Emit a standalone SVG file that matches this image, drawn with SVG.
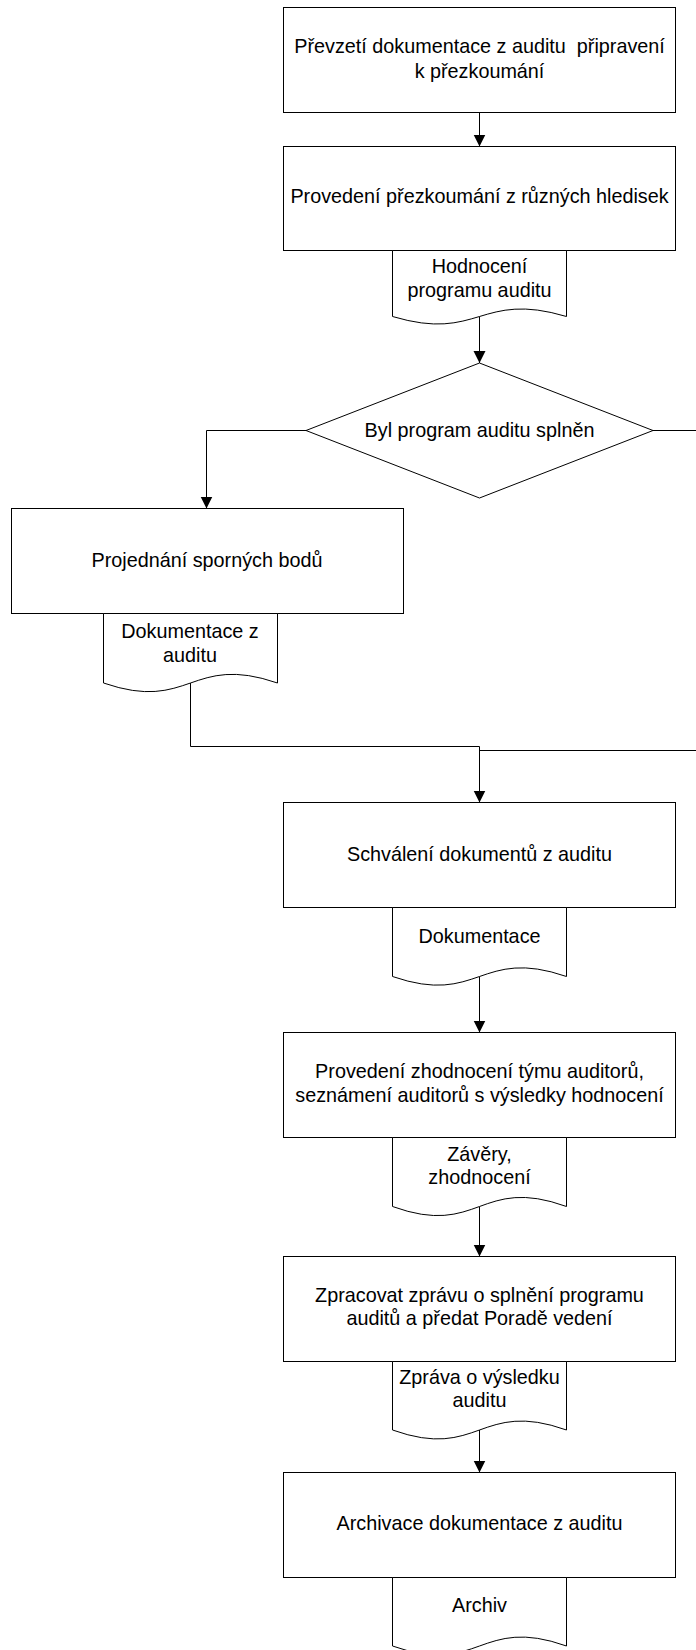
<svg xmlns="http://www.w3.org/2000/svg" width="696" height="1650" viewBox="0 0 696 1650">
  <style>
    .box { fill: #fff; stroke: #000; stroke-width: 1; }
    .doc { fill: #fff; stroke: #000; stroke-width: 1; }
    .edge { fill: none; stroke: #000; stroke-width: 1; }
    .lbl { font-family: "Liberation Sans", Arial, sans-serif; font-size: 19.8px; fill: #000; text-anchor: middle; }
  </style>
  <defs>
    <marker id="arrow" markerUnits="userSpaceOnUse" markerWidth="12" markerHeight="13" refX="12" refY="6.5" orient="auto">
      <path d="M0,0.5 L12,6.5 L0,12.5 z" fill="#000"/>
    </marker>
  </defs>

  <rect width="696" height="1650" fill="#fff"/>

  <!-- connectors -->
  <g id="connectors">
    <path class="edge" d="M479.5,112.5 V146.5" marker-end="url(#arrow)"/>
    <path class="edge" d="M479.5,316.5 V363" marker-end="url(#arrow)"/>
    <path class="edge" d="M306,430.5 H206.5 V508.5" marker-end="url(#arrow)"/>
    <path class="edge" d="M653,430.5 H712 V750.5 H479.5"/>
    <path class="edge" d="M190.5,683 V746.5 H479.5 V802.5" marker-end="url(#arrow)"/>
    <path class="edge" d="M479.5,976.5 V1032.5" marker-end="url(#arrow)"/>
    <path class="edge" d="M479.5,1206.5 V1256.5" marker-end="url(#arrow)"/>
    <path class="edge" d="M479.5,1430 V1472.5" marker-end="url(#arrow)"/>
  </g>

  <!-- process steps -->
  <g id="step-prevzeti">
    <rect class="box" x="283.5" y="7.5" width="392" height="105"/>
    <text class="lbl" xml:space="preserve"><tspan x="479.5" y="53">Převzetí dokumentace z auditu  připravení</tspan><tspan x="479.5" y="78">k přezkoumání</tspan></text>
  </g>

  <g id="step-provedeni">
    <rect class="box" x="283.5" y="146.5" width="392" height="104"/>
    <text class="lbl" x="479.5" y="203">Provedení přezkoumání z různých hledisek</text>
  </g>

  <g id="doc-hodnoceni">
    <path class="doc" d="M392.5,250.5 V316.5 C479.5,342.5 479.5,290.5 566.5,316.5 V250.5 Z"/>
    <text class="lbl"><tspan x="479.5" y="272.5">Hodnocení</tspan><tspan x="479.5" y="297">programu auditu</tspan></text>
  </g>

  <g id="decision-splnen">
    <polygon class="box" points="479.5,363 653,430.5 479.5,498 306,430.5"/>
    <text class="lbl" x="479.5" y="437">Byl program auditu splněn</text>
  </g>

  <g id="step-projednani">
    <rect class="box" x="11.5" y="508.5" width="392" height="105"/>
    <text class="lbl" x="207" y="567">Projednání sporných bodů</text>
  </g>

  <g id="doc-dokumentace-z-auditu">
    <path class="doc" d="M103.5,613.5 V683 C190.5,713 190.5,653 277.5,683 V613.5 Z"/>
    <text class="lbl"><tspan x="190" y="638">Dokumentace z</tspan><tspan x="190" y="662">auditu</tspan></text>
  </g>

  <g id="step-schvaleni">
    <rect class="box" x="283.5" y="802.5" width="392" height="105"/>
    <text class="lbl" x="479.5" y="861">Schválení dokumentů z auditu</text>
  </g>

  <g id="doc-dokumentace">
    <path class="doc" d="M392.5,907.5 V976.5 C479.5,1006.5 479.5,946.5 566.5,976.5 V907.5 Z"/>
    <text class="lbl" x="479.5" y="943">Dokumentace</text>
  </g>

  <g id="step-zhodnoceni">
    <rect class="box" x="283.5" y="1032.5" width="392" height="105"/>
    <text class="lbl"><tspan x="479.5" y="1078">Provedení zhodnocení týmu auditorů,</tspan><tspan x="479.5" y="1102">seznámení auditorů s výsledky hodnocení</tspan></text>
  </g>

  <g id="doc-zavery">
    <path class="doc" d="M392.5,1137.5 V1206.5 C479.5,1238 479.5,1175 566.5,1206.5 V1137.5 Z"/>
    <text class="lbl"><tspan x="479.5" y="1160.5">Závěry,</tspan><tspan x="479.5" y="1184">zhodnocení</tspan></text>
  </g>

  <g id="step-zprava">
    <rect class="box" x="283.5" y="1256.5" width="392" height="105"/>
    <text class="lbl"><tspan x="479.5" y="1302">Zpracovat zprávu o splnění programu</tspan><tspan x="479.5" y="1325">auditů a předat Poradě vedení</tspan></text>
  </g>

  <g id="doc-zprava-o-vysledku">
    <path class="doc" d="M392.5,1361.5 V1430 C479.5,1461 479.5,1399 566.5,1430 V1361.5 Z"/>
    <text class="lbl"><tspan x="479.5" y="1384">Zpráva o výsledku</tspan><tspan x="479.5" y="1407">auditu</tspan></text>
  </g>

  <g id="step-archivace">
    <rect class="box" x="283.5" y="1472.5" width="392" height="105"/>
    <text class="lbl" x="479.5" y="1530">Archivace dokumentace z auditu</text>
  </g>

  <g id="doc-archiv">
    <path class="doc" d="M392.5,1577.5 V1646 C479.5,1677 479.5,1615 566.5,1646 V1577.5 Z"/>
    <text class="lbl" x="479.5" y="1612">Archiv</text>
  </g>
</svg>
